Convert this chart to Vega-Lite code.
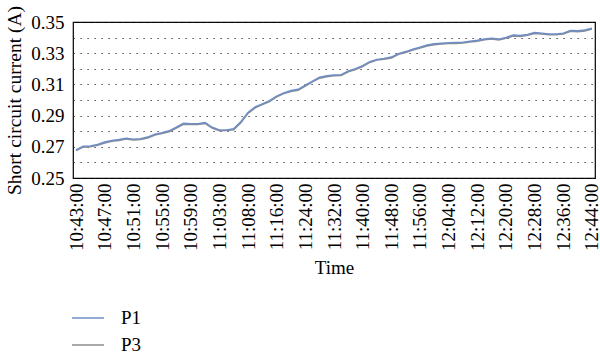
{
  "$schema": "https://vega.github.io/schema/vega-lite/v6.json",
  "width": 522,
  "height": 156,
  "autosize": "none",
  "padding": {"left": 73, "top": 22, "right": 5, "bottom": 176},
  "background": "white",
  "config": {
    "font": "Liberation Serif",
    "view": {"stroke": "black", "strokeWidth": 1.2}
  },
  "data": {
    "values": [
      {"t": "10:43:00", "P1": 0.2680, "P3": 0.2676},
      {"t": "10:44:00", "P1": 0.2703, "P3": 0.2698},
      {"t": "10:45:00", "P1": 0.2705, "P3": 0.2700},
      {"t": "10:46:00", "P1": 0.2715, "P3": 0.2710},
      {"t": "10:47:00", "P1": 0.2730, "P3": 0.2725},
      {"t": "10:48:00", "P1": 0.2740, "P3": 0.2736},
      {"t": "10:49:00", "P1": 0.2746, "P3": 0.2741},
      {"t": "10:50:00", "P1": 0.2755, "P3": 0.2750},
      {"t": "10:51:00", "P1": 0.2748, "P3": 0.2744},
      {"t": "10:52:00", "P1": 0.2752, "P3": 0.2747},
      {"t": "10:53:00", "P1": 0.2762, "P3": 0.2757},
      {"t": "10:54:00", "P1": 0.2780, "P3": 0.2776},
      {"t": "10:55:00", "P1": 0.2790, "P3": 0.2785},
      {"t": "10:56:00", "P1": 0.2802, "P3": 0.2797},
      {"t": "10:57:00", "P1": 0.2825, "P3": 0.2821},
      {"t": "10:58:00", "P1": 0.2850, "P3": 0.2845},
      {"t": "10:59:00", "P1": 0.2848, "P3": 0.2843},
      {"t": "11:00:00", "P1": 0.2848, "P3": 0.2844},
      {"t": "11:01:00", "P1": 0.2855, "P3": 0.2850},
      {"t": "11:02:00", "P1": 0.2825, "P3": 0.2820},
      {"t": "11:03:00", "P1": 0.2808, "P3": 0.2803},
      {"t": "11:04:00", "P1": 0.2808, "P3": 0.2804},
      {"t": "11:05:00", "P1": 0.2815, "P3": 0.2810},
      {"t": "11:06:00", "P1": 0.2860, "P3": 0.2855},
      {"t": "11:08:00", "P1": 0.2920, "P3": 0.2915},
      {"t": "11:10:00", "P1": 0.2955, "P3": 0.2950},
      {"t": "11:12:00", "P1": 0.2975, "P3": 0.2971},
      {"t": "11:14:00", "P1": 0.2995, "P3": 0.2990},
      {"t": "11:16:00", "P1": 0.3025, "P3": 0.3020},
      {"t": "11:18:00", "P1": 0.3045, "P3": 0.3041},
      {"t": "11:20:00", "P1": 0.3060, "P3": 0.3055},
      {"t": "11:22:00", "P1": 0.3068, "P3": 0.3063},
      {"t": "11:24:00", "P1": 0.3095, "P3": 0.3090},
      {"t": "11:26:00", "P1": 0.3120, "P3": 0.3116},
      {"t": "11:28:00", "P1": 0.3145, "P3": 0.3140},
      {"t": "11:30:00", "P1": 0.3155, "P3": 0.3150},
      {"t": "11:32:00", "P1": 0.3160, "P3": 0.3156},
      {"t": "11:34:00", "P1": 0.3162, "P3": 0.3157},
      {"t": "11:36:00", "P1": 0.3186, "P3": 0.3181},
      {"t": "11:38:00", "P1": 0.3200, "P3": 0.3196},
      {"t": "11:40:00", "P1": 0.3220, "P3": 0.3215},
      {"t": "11:42:00", "P1": 0.3246, "P3": 0.3241},
      {"t": "11:44:00", "P1": 0.3260, "P3": 0.3256},
      {"t": "11:46:00", "P1": 0.3266, "P3": 0.3261},
      {"t": "11:48:00", "P1": 0.3275, "P3": 0.3270},
      {"t": "11:50:00", "P1": 0.3297, "P3": 0.3293},
      {"t": "11:52:00", "P1": 0.3310, "P3": 0.3305},
      {"t": "11:54:00", "P1": 0.3325, "P3": 0.3320},
      {"t": "11:56:00", "P1": 0.3338, "P3": 0.3334},
      {"t": "11:58:00", "P1": 0.3352, "P3": 0.3347},
      {"t": "12:00:00", "P1": 0.3360, "P3": 0.3355},
      {"t": "12:02:00", "P1": 0.3363, "P3": 0.3359},
      {"t": "12:04:00", "P1": 0.3367, "P3": 0.3362},
      {"t": "12:06:00", "P1": 0.3368, "P3": 0.3363},
      {"t": "12:08:00", "P1": 0.3370, "P3": 0.3366},
      {"t": "12:10:00", "P1": 0.3377, "P3": 0.3372},
      {"t": "12:12:00", "P1": 0.3382, "P3": 0.3377},
      {"t": "12:14:00", "P1": 0.3390, "P3": 0.3386},
      {"t": "12:16:00", "P1": 0.3396, "P3": 0.3391},
      {"t": "12:18:00", "P1": 0.3390, "P3": 0.3385},
      {"t": "12:20:00", "P1": 0.3400, "P3": 0.3396},
      {"t": "12:22:00", "P1": 0.3416, "P3": 0.3411},
      {"t": "12:24:00", "P1": 0.3413, "P3": 0.3408},
      {"t": "12:26:00", "P1": 0.3420, "P3": 0.3416},
      {"t": "12:28:00", "P1": 0.3432, "P3": 0.3427},
      {"t": "12:30:00", "P1": 0.3428, "P3": 0.3423},
      {"t": "12:32:00", "P1": 0.3423, "P3": 0.3419},
      {"t": "12:34:00", "P1": 0.3423, "P3": 0.3418},
      {"t": "12:36:00", "P1": 0.3428, "P3": 0.3423},
      {"t": "12:38:00", "P1": 0.3445, "P3": 0.3441},
      {"t": "12:40:00", "P1": 0.3443, "P3": 0.3438},
      {"t": "12:42:00", "P1": 0.3448, "P3": 0.3443},
      {"t": "12:44:00", "P1": 0.3460, "P3": 0.3456}
    ]
  },
  "transform": [{"fold": ["P1", "P3"], "as": ["series", "value"]}],
  "encoding": {
    "x": {
      "field": "t",
      "type": "ordinal",
      "sort": null,
      "scale": {"type": "point", "padding": 0.42},
      "axis": {
        "values": ["10:43:00","10:47:00","10:51:00","10:55:00","10:59:00","11:03:00","11:08:00","11:16:00","11:24:00","11:32:00","11:40:00","11:48:00","11:56:00","12:04:00","12:12:00","12:20:00","12:28:00","12:36:00","12:44:00"],
        "labelAngle": -90,
        "labelFontSize": 19,
        "labelColor": "black",
        "labelPadding": 5,
        "ticks": false,
        "domain": false,
        "grid": false,
        "title": "Time",
        "titleFontSize": 19,
        "titleFontWeight": "normal",
        "titleColor": "black",
        "titlePadding": 8
      }
    },
    "y": {
      "field": "value",
      "type": "quantitative",
      "scale": {"domain": [0.25, 0.35], "nice": false, "zero": false},
      "axis": {
        "values": [0.25, 0.26, 0.27, 0.28, 0.29, 0.30, 0.31, 0.32, 0.33, 0.34, 0.35],
        "labelExpr": "round(datum.value * 100) % 2 == 1 ? format(datum.value, '.2f') : ''",
        "labelFontSize": 19,
        "labelColor": "black",
        "labelPadding": 9,
        "ticks": false,
        "domain": false,
        "grid": true,
        "gridColor": "#222",
        "gridDash": [1.2, 5.8],
        "gridWidth": 1,
        "title": "Short circuit current (A)",
        "titleFontSize": 19.5,
        "titleFontWeight": "normal",
        "titleColor": "black",
        "titlePadding": 6
      }
    },
    "color": {
      "field": "series",
      "type": "nominal",
      "scale": {"domain": ["P1", "P3"], "range": ["#6f8ec6", "#8c8c8c"]},
      "legend": {
        "orient": "none",
        "legendX": -2,
        "legendY": 279,
        "title": null,
        "symbolType": "stroke",
        "symbolSize": 1024,
        "symbolStrokeWidth": 1.5,
        "labelFontSize": 19,
        "labelColor": "black",
        "labelOffset": 16,
        "rowPadding": -12,
        "padding": 0
      }
    }
  },
  "layer": [
    {"transform": [{"filter": "datum.series == 'P3'"}], "mark": {"type": "line", "strokeWidth": 1.6}},
    {"transform": [{"filter": "datum.series == 'P1'"}], "mark": {"type": "line", "strokeWidth": 1.6}}
  ]
}
